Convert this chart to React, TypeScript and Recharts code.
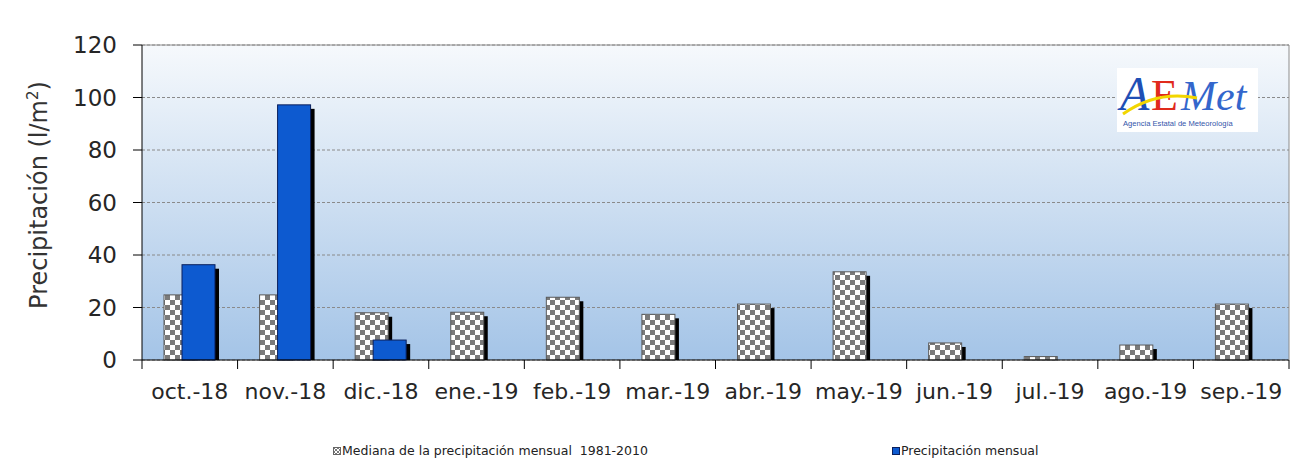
import { BarChart, Bar, XAxis, YAxis, CartesianGrid, ReferenceLine, Legend } from "recharts";

const months = [
  "oct.-18",
  "nov.-18",
  "dic.-18",
  "ene.-19",
  "feb.-19",
  "mar.-19",
  "abr.-19",
  "may.-19",
  "jun.-19",
  "jul.-19",
  "ago.-19",
  "sep.-19",
];
// mediana 1981-2010 (l/m2)
const medianValues = [24.8, 24.8, 18.0, 18.2, 23.9, 17.4, 21.3, 33.6, 6.5, 1.3, 5.7, 21.3];
// precipitación mensual observada (sin datos aún a partir de ene.-19)
const monthlyValues: (number | null)[] = [
  36.3, 97.2, 7.6, null, null, null, null, null, null, null, null, null,
];
const yTicks = [0, 20, 40, 60, 80, 100, 120];
const medianName = "Mediana de la precipitación mensual  1981-2010";
const monthlyName = "Precipitación mensual";

const chartData = months.map((month, i) => ({
  month,
  median: medianValues[i],
  monthly: monthlyValues[i],
}));

const BLUE = "#0d5ad0";
const TICK_FONT = "'DejaVu Sans', Verdana, sans-serif";

function ShadowBar(props: any) {
  const { x, y, width, height, fill, stroke } = props;
  if (!height || height <= 0) return null;
  const sh = Math.min(4, height);
  return (
    <g>
      <rect x={x + 4} y={y + sh} width={width} height={height - sh} fill="#000" />
      <rect x={x} y={y} width={width} height={height} fill={fill} stroke={stroke} strokeWidth={1} />
    </g>
  );
}

function MonthTick(props: any) {
  const { x, y, payload, index } = props;
  const half = payload.offset ?? 0;
  return (
    <g>
      <line x1={x - half} y1={y} x2={x - half} y2={y + 9} stroke="#000" />
      {index === months.length - 1 && (
        <line x1={x + half} y1={y} x2={x + half} y2={y + 9} stroke="#000" />
      )}
      <text x={x} y={y + 39} textAnchor="middle" fontSize={22} fontFamily={TICK_FONT} fill="#262626">
        {payload.value}
      </text>
    </g>
  );
}

function ValueTick(props: any) {
  const { x, y, payload } = props;
  return (
    <text x={x} y={y} dy="0.36em" textAnchor="end" fontSize={23} fontFamily={TICK_FONT} fill="#262626">
      {payload.value}
    </text>
  );
}

function AxisTitle() {
  return (
    <text
      x={47}
      y={195}
      transform="rotate(-90 47 195)"
      textAnchor="middle"
      fontSize={24}
      fontFamily={TICK_FONT}
      fill="#333"
    >
      Precipitación (l/m<tspan fontSize={15} dy={-9}>2</tspan>
      <tspan dy={9}>)</tspan>
    </text>
  );
}

function LegendBox() {
  const label: React.CSSProperties = {
    position: "absolute",
    top: 0,
    fontSize: 12.5,
    fontFamily: TICK_FONT,
    color: "#222",
    whiteSpace: "pre",
    lineHeight: "16px",
  };
  return (
    <div style={{ position: "relative", width: 1291, height: 16 }}>
      <svg style={{ position: "absolute", left: 333, top: 4 }} width={8} height={8}>
        <rect x={0.5} y={0.5} width={7} height={7} fill="url(#checkerSmall)" stroke="#666" />
      </svg>
      <span style={{ ...label, left: 342 }}>{medianName}</span>
      <svg style={{ position: "absolute", left: 892, top: 4 }} width={8} height={8}>
        <rect x={0.5} y={0.5} width={7} height={7} fill={BLUE} stroke="#0a1f5c" />
      </svg>
      <span style={{ ...label, left: 901 }}>{monthlyName}</span>
    </div>
  );
}

function Logo() {
  return (
    <svg
      style={{ position: "absolute", left: 1117, top: 68 }}
      width={141}
      height={64}
      fontFamily="'Liberation Serif', serif"
    >
      <rect width={141} height={64} fill="#fff" />
      <text x={3} y={42} fontSize={48} fontStyle="italic" fill="#1f4fb5">
        A
      </text>
      <text x={34} y={42} fontSize={44} fill="#e02a1c">
        E
      </text>
      <text x={64} y={42} fontSize={42} fontStyle="italic" fill="#3366cc">
        Met
      </text>
      <path d="M6 46 Q40 22 80 30" stroke="#f2d600" strokeWidth={3} fill="none" />
      <text x={6} y={58} fontSize={7.6} fontFamily="'Liberation Sans', sans-serif" fill="#3355aa">
        Agencia Estatal de Meteorología
      </text>
    </svg>
  );
}

export default function App() {
  return (
    <div style={{ position: "absolute", left: 0, top: 0, width: 1291, height: 462, background: "#fff" }}>
      <svg width={0} height={0} style={{ position: "absolute" }}>
        <defs>
          <linearGradient id="plotBg" x1="0" y1="0" x2="0" y2="1">
            <stop offset="0%" stopColor="#f6f9fc" />
            <stop offset="100%" stopColor="#a4c4e7" />
          </linearGradient>
          <pattern id="checker" width={10} height={10} patternUnits="userSpaceOnUse">
            <rect width={10} height={10} fill="#fff" />
            <rect width={5} height={5} fill="#7a7a7a" />
            <rect x={5} y={5} width={5} height={5} fill="#7a7a7a" />
          </pattern>
          <pattern id="checkerSmall" width={4} height={4} patternUnits="userSpaceOnUse">
            <rect width={4} height={4} fill="#fff" />
            <rect width={2} height={2} fill="#7a7a7a" />
            <rect x={2} y={2} width={2} height={2} fill="#7a7a7a" />
          </pattern>
        </defs>
      </svg>
      <BarChart
        width={1291}
        height={462}
        data={chartData}
        margin={{ top: 45, right: 0, left: 0, bottom: 36 }}
        barSize={33}
        barGap={-15}
      >
        <CartesianGrid
          vertical={false}
          stroke="#8a8a8a"
          strokeDasharray="3 2"
          fill="url(#plotBg)"
          fillOpacity={1}
        />
        <XAxis
          dataKey="month"
          height={50}
          tickSize={0}
          tickMargin={0}
          tickLine={false}
          axisLine={{ stroke: "#000" }}
          tick={<MonthTick />}
          interval={0}
        />
        <YAxis
          width={142}
          domain={[0, 120]}
          ticks={yTicks}
          tickSize={9}
          tickMargin={16}
          tickLine={{ stroke: "#000" }}
          axisLine={{ stroke: "#000" }}
          tick={<ValueTick />}
          label={<AxisTitle />}
        />
        <YAxis
          yAxisId="r"
          orientation="right"
          width={2}
          domain={[0, 120]}
          tick={false}
          tickLine={false}
          axisLine={{ stroke: "#8c8c8c" }}
        />
        <ReferenceLine y={120} stroke="#8c8c8c" />
        <Bar
          dataKey="median"
          name={medianName}
          fill="url(#checker)"
          stroke="#5a5a5a"
          shape={<ShadowBar />}
          isAnimationActive={false}
        />
        <Bar
          dataKey="monthly"
          name={monthlyName}
          fill={BLUE}
          stroke="#0a1f5c"
          shape={<ShadowBar />}
          isAnimationActive={false}
        />
        <Legend
          verticalAlign="bottom"
          content={() => <LegendBox />}
          wrapperStyle={{ top: 443, left: 0, width: 1291 }}
        />
      </BarChart>
      <Logo />
    </div>
  );
}
